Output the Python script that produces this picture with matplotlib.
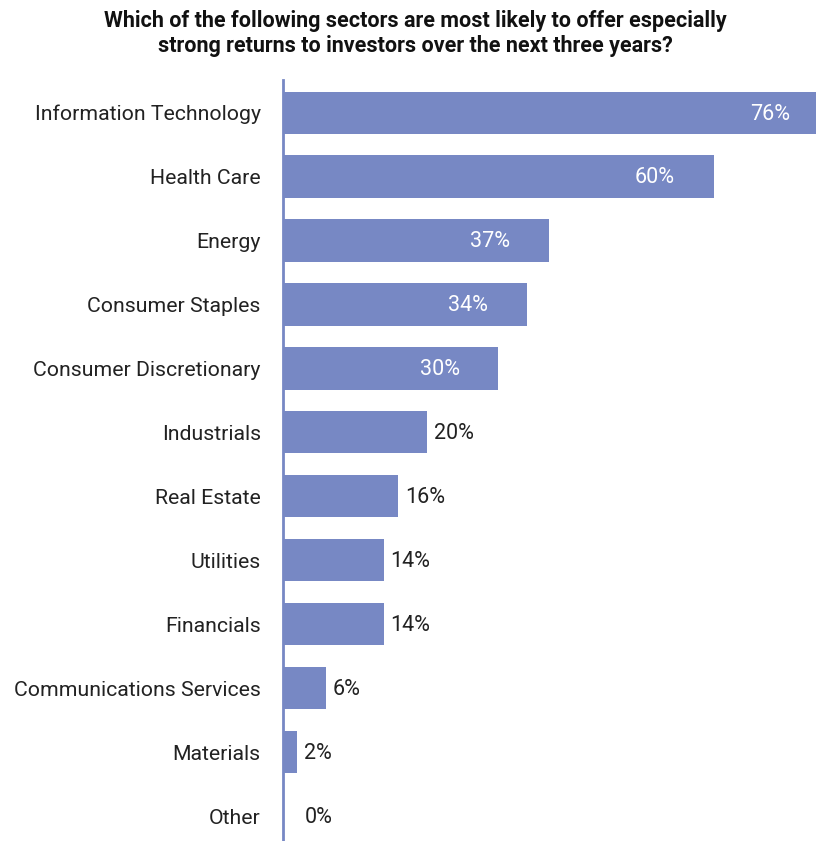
"""Horizontal bar chart: sectors expected to offer strong investor returns."""

import matplotlib

matplotlib.use("Agg")
import matplotlib.pyplot as plt

SECTORS = [
    "Information Technology",
    "Health Care",
    "Energy",
    "Consumer Staples",
    "Consumer Discretionary",
    "Industrials",
    "Real Estate",
    "Utilities",
    "Financials",
    "Communications Services",
    "Materials",
    "Other",
]
SHARES = [76, 60, 37, 34, 30, 20, 16, 14, 14, 6, 2, 0]

TITLE = ("Which of the following sectors are most likely to offer especially\n"
         "strong returns to investors over the next three years?")

_C_BAR = "#7788c4"
_C_TEXT = "#222222"
INSIDE_MIN = 30
LABEL_MIN_X = 2  # keep small-value labels clear of the axis line

plt.rcParams.update({
    "font.family": ["Roboto", "DejaVu Sans"],
    "font.size": 15,
    "text.color": _C_TEXT,
})

fig = plt.figure(figsize=(8.16, 8.41), dpi=100)
ax = fig.add_axes([283 / 816, 0.0, 1 - 283 / 816, 1 - 80 / 841])

pos = list(range(len(SECTORS)))
ax.barh(pos, SHARES, height=0.66, color=_C_BAR)
ax.set_ylim(len(SECTORS) - 1 + 0.39, -0.51)
ax.set_xlim(0, 74.2)

for y, v in zip(pos, SHARES):
    if v >= INSIDE_MIN:
        ax.annotate(f"{v}%", xy=(v, y), xytext=(-28, -1), textcoords="offset points",
                    ha="right", va="center", color="white", fontsize=15.5,
                    annotation_clip=False)
    else:
        ax.annotate(f"{v}%", xy=(max(v, LABEL_MIN_X), y), xytext=(5, -1),
                    textcoords="offset points", ha="left", va="center",
                    color=_C_TEXT, fontsize=15.5, annotation_clip=False)

ax.set_yticks(pos)
ax.set_yticklabels(SECTORS, fontsize=15.3, color=_C_TEXT)
ax.tick_params(axis="y", length=0, pad=16)
ax.set_xticks([])
for side in ("top", "right", "bottom"):
    ax.spines[side].set_visible(False)
ax.spines["left"].set_color(_C_BAR)
ax.spines["left"].set_linewidth(2)

fig.text(0.509, 0.988, TITLE, ha="center", va="top", fontsize=15.5, fontweight="bold",
         linespacing=1.2, color="#111111")

fig.savefig("out.png", dpi=100, facecolor="white")
